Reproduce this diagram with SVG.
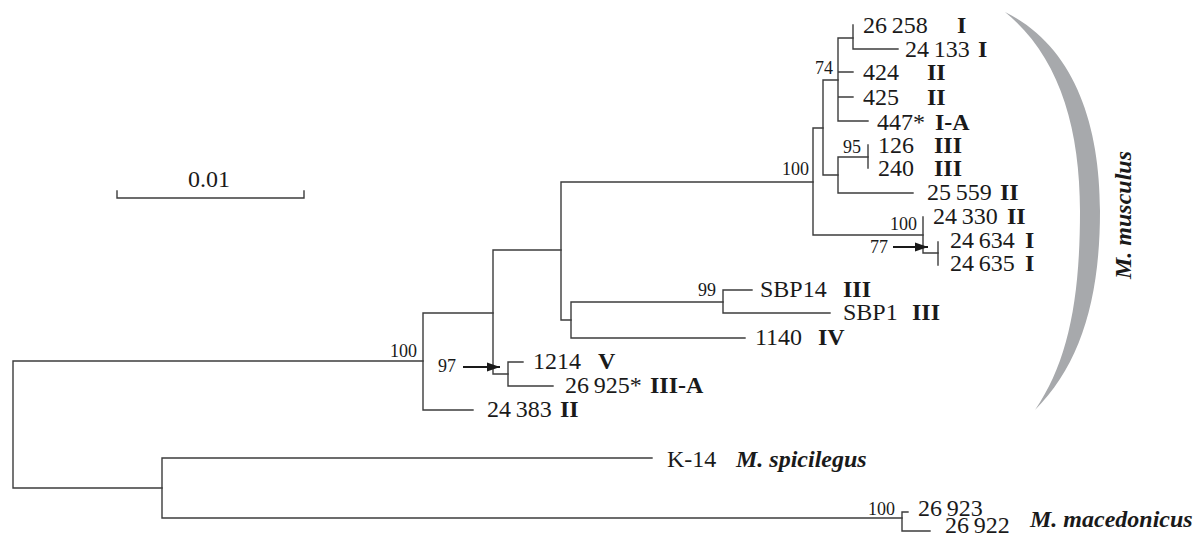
<svg xmlns="http://www.w3.org/2000/svg" width="1203" height="538" viewBox="0 0 1203 538">
<style>
  .e { fill: none; stroke: #3c3c3c; stroke-width: 1.4; stroke-linecap: square; }
  .lab { font-family: "Liberation Serif", "Times New Roman", serif; font-size: 24px; fill: #1a1a1a; }
  .b { font-weight: bold; }
  .bi { font-weight: bold; font-style: italic; }
  .sup { font-family: "Liberation Serif", "Times New Roman", serif; font-size: 18px; fill: #1a1a1a; }
  .arr { stroke: #1a1a1a; stroke-width: 2; fill: none; }
</style>
<defs>
  <marker id="ah" markerUnits="userSpaceOnUse" markerWidth="14" markerHeight="10" refX="13" refY="5" orient="auto">
    <path d="M0,0.5 L13,5 L0,9.5 Z" fill="#1a1a1a"/>
  </marker>
</defs>
<rect width="1203" height="538" fill="#ffffff"/>

<g id="clade-bracket">
  <path d="M1005,12 C1072,45 1100,120 1100,211 C1100,300 1080,365 1035,410 C1068,362 1080,300 1080,211 C1080,125 1058,55 1005,12 Z" fill="#a7a9ac"/>
</g>

<g id="scale-bar">
  <path class="e" d="M117,191 V198 H304 V191"/>
  <text class="lab" x="188" y="187">0.01</text>
</g>

<g id="connectors">
  <path class="e" d="M13,361 V488 M13,361 H423 M13,488 H162"/>
  <path class="e" d="M162,458 V518 M162,458 H652 M162,518 H902"/>
  <path class="e" d="M902,512 V531 M902,512 H908 M902,531 H930"/>
  <path class="e" d="M423,313 V410 M423,313 H493 M423,410 H473"/>
  <path class="e" d="M493,250 V374 M493,250 H561 M493,374 H508"/>
  <path class="e" d="M508,362 V386 M508,362 H523 M508,386 H553"/>
  <path class="e" d="M561,182 V320 M561,182 H813 M561,320 H571"/>
  <path class="e" d="M571,302 V338 M571,302 H723 M571,338 H745"/>
  <path class="e" d="M723,290 V313 M723,290 H752 M723,313 H830"/>
  <path class="e" d="M813,128 V235 M813,128 H823 M813,235 H923"/>
  <path class="e" d="M823,80 V175 M823,80 H838 M823,175 H838"/>
  <path class="e" d="M838,38 V121 M838,38 H853 M838,72 H853 M838,97 H853 M838,121 H868"/>
  <path class="e" d="M853,25 V49 H898"/>
  <path class="e" d="M838,157 V193 M838,157 H868 M838,193 H913"/>
  <path class="e" d="M868,145 V168"/>
  <path class="e" d="M923,217 V253 H938"/>
  <path class="e" d="M938,242 V265"/>
  <line class="arr" x1="893" y1="247" x2="928" y2="247" marker-end="url(#ah)"/>
  <line class="arr" x1="463" y1="367" x2="500" y2="367" marker-end="url(#ah)"/>
</g>

<g id="support-values">
  <text class="sup" x="815" y="74">74</text>
  <text class="sup" x="843" y="153">95</text>
  <text class="sup" x="782" y="175">100</text>
  <text class="sup" x="890" y="230">100</text>
  <text class="sup" x="870" y="253">77</text>
  <text class="sup" x="698" y="296">99</text>
  <text class="sup" x="390" y="357">100</text>
  <text class="sup" x="438" y="372">97</text>
  <text class="sup" x="868" y="515">100</text>
</g>

<g id="leaf-26258"><text class="lab" x="863" y="33">26&#8201;258</text><text class="lab b" x="957" y="33">I</text></g>
<g id="leaf-24133"><text class="lab" x="905" y="57">24&#8201;133</text><text class="lab b" x="978" y="57">I</text></g>
<g id="leaf-424"><text class="lab" x="863" y="80">424</text><text class="lab b" x="927" y="80">II</text></g>
<g id="leaf-425"><text class="lab" x="863" y="105">425</text><text class="lab b" x="927" y="105">II</text></g>
<g id="leaf-447"><text class="lab" x="877" y="130">447*</text><text class="lab b" x="935" y="130">I-A</text></g>
<g id="leaf-126"><text class="lab" x="878" y="153">126</text><text class="lab b" x="934" y="153">III</text></g>
<g id="leaf-240"><text class="lab" x="878" y="176">240</text><text class="lab b" x="934" y="176">III</text></g>
<g id="leaf-25559"><text class="lab" x="927" y="200">25&#8201;559</text><text class="lab b" x="1000" y="200">II</text></g>
<g id="leaf-24330"><text class="lab" x="933" y="224">24&#8201;330</text><text class="lab b" x="1007" y="224">II</text></g>
<g id="leaf-24634"><text class="lab" x="950" y="248">24&#8201;634</text><text class="lab b" x="1025" y="248">I</text></g>
<g id="leaf-24635"><text class="lab" x="950" y="271">24&#8201;635</text><text class="lab b" x="1025" y="271">I</text></g>
<g id="leaf-SBP14"><text class="lab" x="760" y="297">SBP14</text><text class="lab b" x="843" y="297">III</text></g>
<g id="leaf-SBP1"><text class="lab" x="843" y="320">SBP1</text><text class="lab b" x="912" y="320">III</text></g>
<g id="leaf-1140"><text class="lab" x="755" y="345">1140</text><text class="lab b" x="818" y="345">IV</text></g>
<g id="leaf-1214"><text class="lab" x="533" y="369">1214</text><text class="lab b" x="598" y="369">V</text></g>
<g id="leaf-26925"><text class="lab" x="565" y="393">26&#8201;925*</text><text class="lab b" x="650" y="393">III-A</text></g>
<g id="leaf-24383"><text class="lab" x="487" y="417">24&#8201;383</text><text class="lab b" x="560" y="417">II</text></g>
<g id="leaf-K14"><text class="lab" x="667" y="467">K-14</text><text class="lab bi" x="736" y="467" font-size="25">M. spicilegus</text></g>
<g id="leaf-26923"><text class="lab" x="918" y="516">26&#8201;923</text></g>
<g id="leaf-26922"><text class="lab" x="945" y="533">26&#8201;922</text></g>
<g id="label-macedonicus"><text class="lab bi" x="1030" y="527">M. macedonicus</text></g>
<g id="label-musculus"><text class="lab bi" text-anchor="middle" transform="translate(1131,215) rotate(-90)">M. musculus</text></g>
</svg>
